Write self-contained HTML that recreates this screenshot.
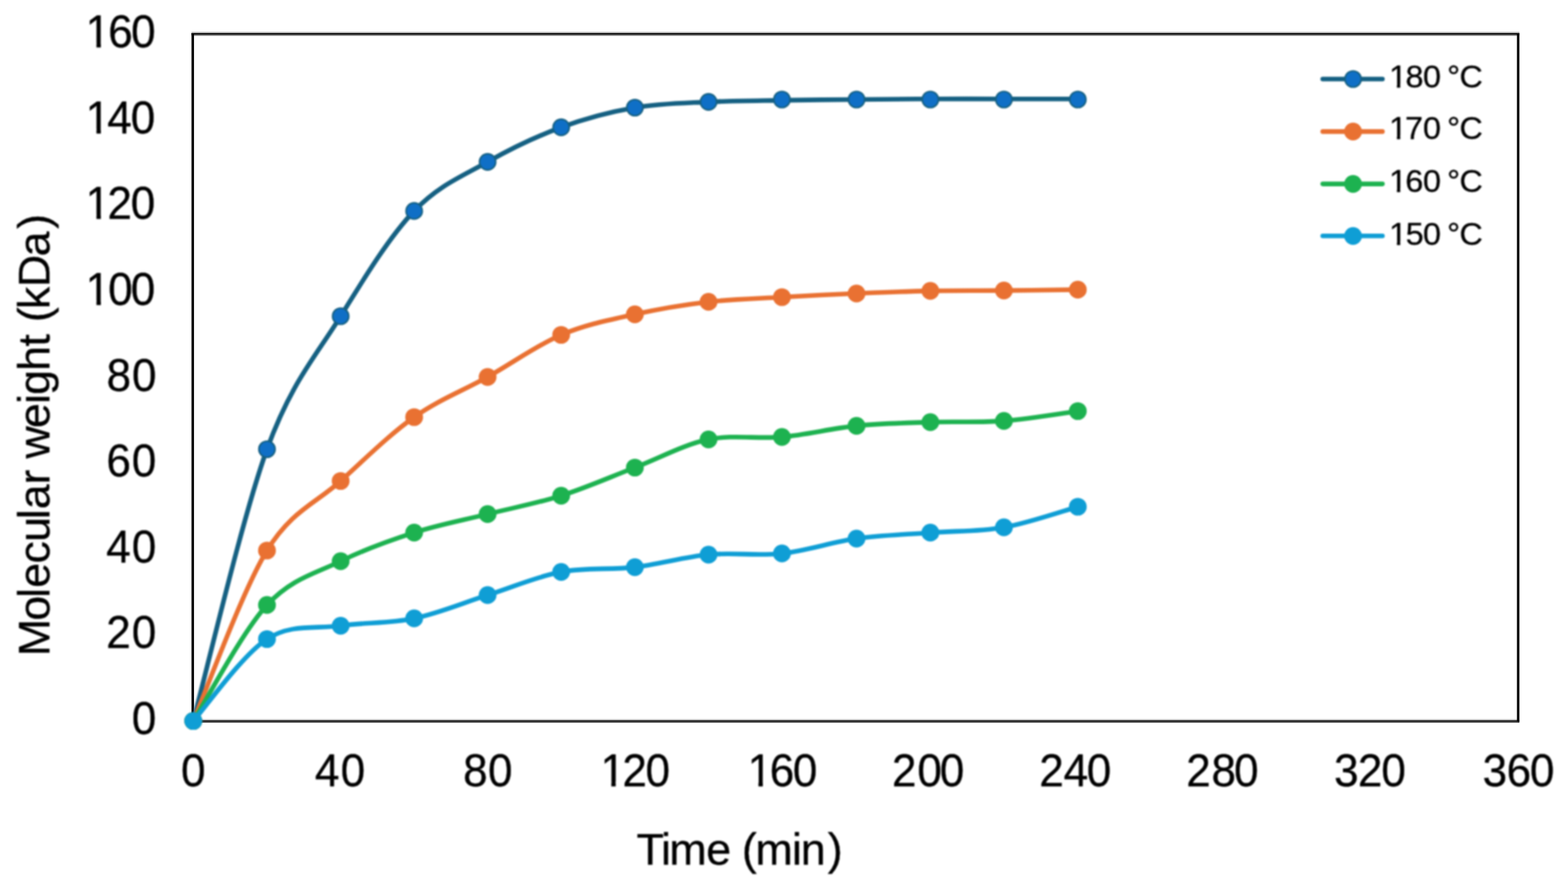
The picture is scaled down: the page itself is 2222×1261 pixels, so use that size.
<!DOCTYPE html>
<html lang="en"><head><meta charset="utf-8"><title>Molecular weight vs time</title>
<style>
html,body{margin:0;padding:0;background:#fff;}
body{width:2222px;height:1261px;overflow:hidden;font-family:"Liberation Sans",Arial,Helvetica,sans-serif;}
svg{display:block;}
text{font-family:"Liberation Sans",Arial,Helvetica,sans-serif;fill:#000;stroke:#000;stroke-width:0.40px;stroke-linejoin:round;white-space:pre;}
</style></head><body>
<svg xmlns="http://www.w3.org/2000/svg" width="2222" height="1261" viewBox="0 0 2222 1261">
<defs><filter id="soft" x="0" y="0" width="2222" height="1261" filterUnits="userSpaceOnUse" color-interpolation-filters="sRGB"><feGaussianBlur stdDeviation="0.85 1.20"/></filter><filter id="crisp" x="0" y="0" width="2222" height="1261" filterUnits="userSpaceOnUse" color-interpolation-filters="sRGB"><feGaussianBlur stdDeviation="0.35 0.30"/></filter></defs>
<rect x="0" y="0" width="2222" height="1261" fill="#fff"/>
<g filter="url(#soft)">
<rect x="0" y="0" width="2222" height="1261" fill="#fff"/>
<g id="y-axis-labels">
<text class="tick" font-size="62.50" transform="translate(0.00 67.15) scale(1 1.0320)" x="121.32 153.18 185.66" y="0">160</text>
<text class="tick" font-size="62.50" transform="translate(0.00 188.75) scale(1 1.0320)" x="121.32 152.07 185.36" y="0">140</text>
<text class="tick" font-size="62.50" transform="translate(0.00 310.35) scale(1 1.0320)" x="121.32 152.26 185.36" y="0">120</text>
<text class="tick" font-size="62.50" transform="translate(0.00 431.95) scale(1 1.0320)" x="121.32 153.26 185.36" y="0">100</text>
<text class="tick" font-size="62.50" transform="translate(0.00 553.55) scale(1 1.0320)" x="151.02 186.94" y="0">80</text>
<text class="tick" font-size="62.50" transform="translate(0.00 675.15) scale(1 1.0320)" x="150.83 186.66" y="0">60</text>
<text class="tick" font-size="62.50" transform="translate(0.00 796.75) scale(1 1.0320)" x="150.42 186.66" y="0">40</text>
<text class="tick" font-size="62.50" transform="translate(0.00 918.35) scale(1 1.0320)" x="150.56 186.66" y="0">20</text>
<text class="tick" font-size="62.50" transform="translate(0.00 1039.95) scale(1 1.0320)" x="186.66" y="0">0</text>
</g>
<g id="x-axis-labels">
<text class="tick" font-size="62.50" transform="translate(0.00 1113.80) scale(1 1.0320)" x="256.46" y="0">0</text>
<text class="tick" font-size="62.50" transform="translate(0.00 1113.80) scale(1 1.0320)" x="446.17 482.76" y="0">40</text>
<text class="tick" font-size="62.50" transform="translate(0.00 1113.80) scale(1 1.0320)" x="656.18 691.56" y="0">80</text>
<text class="tick" font-size="62.50" transform="translate(0.00 1113.80) scale(1 1.0320)" x="850.92 881.96 914.76" y="0">120</text>
<text class="tick" font-size="62.50" transform="translate(0.00 1113.80) scale(1 1.0320)" x="1059.42 1090.83 1123.46" y="0">160</text>
<text class="tick" font-size="62.50" transform="translate(0.00 1113.80) scale(1 1.0320)" x="1264.01 1300.06 1331.66" y="0">200</text>
<text class="tick" font-size="62.50" transform="translate(0.00 1113.80) scale(1 1.0320)" x="1472.66 1507.27 1540.06" y="0">240</text>
<text class="tick" font-size="62.50" transform="translate(0.00 1113.80) scale(1 1.0320)" x="1681.01 1716.78 1748.66" y="0">280</text>
<text class="tick" font-size="62.50" transform="translate(0.00 1113.80) scale(1 1.0320)" x="1890.58 1924.36 1957.46" y="0">320</text>
<text class="tick" font-size="62.50" transform="translate(0.00 1113.80) scale(1 1.0320)" x="2101.12 2135.13 2168.01" y="0">360</text>
</g>
<text class="title" font-size="63.50" transform="translate(0.00 1224.80)" x="901.97 936.65 948.58 1000.70 1036.02 1051.16 1070.48 1122.15 1134.63 1172.93" y="0">Time (min)</text>
<text class="title" font-size="63.50" transform="translate(70.00 925.00) rotate(-90)" x="-4.81 45.43 77.92 92.30 126.40 157.38 189.62 203.40 238.58 259.73 275.29 318.50 352.75 365.43 399.50 433.94 451.58 468.46 486.92 518.34 561.80 600.73" y="0">Molecular weight (kDa)</text>
<g id="legend-labels">
<text class="leg" font-size="45.80" transform="translate(0.00 124.10) scale(1 0.9850)" x="1968.40 1991.77 2016.61 2042.08 2050.77 2068.37" y="0">180 °C</text>
<text class="leg" font-size="45.80" transform="translate(0.00 196.75) scale(1 0.9850)" x="1968.40 1991.05 2016.61 2042.08 2050.77 2068.37" y="0">170 °C</text>
<text class="leg" font-size="45.80" transform="translate(0.00 271.75) scale(1 0.9850)" x="1968.40 1991.43 2016.61 2042.08 2050.77 2068.37" y="0">160 °C</text>
<text class="leg" font-size="45.80" transform="translate(0.00 346.75) scale(1 0.9850)" x="1968.40 1991.93 2016.61 2042.08 2050.77 2068.37" y="0">150 °C</text>
</g>
<g id="one-foot-masks" fill="#fff">
<rect x="124.58" y="61.13" width="12.11" height="8.02"/>
<rect x="142.91" y="61.13" width="11.97" height="8.02"/>
<rect x="124.58" y="182.73" width="12.11" height="8.02"/>
<rect x="142.91" y="182.73" width="11.97" height="8.02"/>
<rect x="124.58" y="304.33" width="12.11" height="8.02"/>
<rect x="142.91" y="304.33" width="11.97" height="8.02"/>
<rect x="124.58" y="425.93" width="12.11" height="8.02"/>
<rect x="142.91" y="425.93" width="11.97" height="8.02"/>
<rect x="854.18" y="1107.78" width="12.11" height="8.02"/>
<rect x="872.51" y="1107.78" width="11.97" height="8.02"/>
<rect x="1062.68" y="1107.78" width="12.11" height="8.02"/>
<rect x="1081.01" y="1107.78" width="11.97" height="8.02"/>
<rect x="1970.39" y="119.53" width="9.18" height="6.57"/>
<rect x="1984.31" y="119.53" width="9.17" height="6.57"/>
<rect x="1970.39" y="192.18" width="9.18" height="6.57"/>
<rect x="1984.31" y="192.18" width="9.17" height="6.57"/>
<rect x="1970.39" y="267.18" width="9.18" height="6.57"/>
<rect x="1984.31" y="267.18" width="9.17" height="6.57"/>
<rect x="1970.39" y="342.18" width="9.18" height="6.57"/>
<rect x="1984.31" y="342.18" width="9.17" height="6.57"/>
</g>
</g>
<g id="frame" filter="url(#crisp)">
<rect x="271.40" y="45.10" width="1881.75" height="1.90" fill="#000" fill-opacity="0.30"/>
<rect x="271.40" y="47.00" width="1881.75" height="1.90" fill="#000" fill-opacity="1.00"/>
<rect x="271.40" y="48.90" width="1881.75" height="1.90" fill="#000" fill-opacity="0.50"/>
<rect x="271.40" y="1018.65" width="1881.75" height="1.10" fill="#000" fill-opacity="0.15"/>
<rect x="271.40" y="1019.75" width="1881.75" height="1.05" fill="#000" fill-opacity="0.45"/>
<rect x="271.40" y="1020.80" width="1881.75" height="1.70" fill="#000" fill-opacity="1.00"/>
<rect x="271.40" y="1022.50" width="1881.75" height="1.60" fill="#000" fill-opacity="0.68"/>
<rect x="271.40" y="47.00" width="3.50" height="975.50" fill="#000"/>
<rect x="2149.65" y="47.00" width="3.50" height="975.50" fill="#000"/>
</g>
<g filter="url(#soft)">
<g id="series-b" transform="scale(1 1.0000)">
<path d="M273.90 1021.50 C291.31 957.32 343.51 732.10 378.33 636.50 C413.15 540.90 447.99 504.28 482.76 448.00 C517.53 391.72 552.19 335.34 586.90 298.90 C621.61 262.46 656.24 249.15 690.97 229.40 C725.70 209.65 760.46 193.22 795.25 180.40 C830.04 167.58 864.87 158.50 899.68 152.50 C934.49 146.50 969.32 146.13 1004.06 144.40 C1038.80 142.67 1073.11 142.67 1108.07 142.10 C1143.03 141.53 1178.71 141.32 1213.77 141.00 C1248.83 140.68 1283.58 140.33 1318.40 140.20 C1353.22 140.07 1387.80 140.20 1422.63 140.20 C1457.46 140.20 1509.90 140.20 1527.36 140.20" fill="none" stroke="#156082" stroke-width="6.60" stroke-linecap="round" stroke-linejoin="round"/>
<circle cx="273.90" cy="1021.50" r="11.50" fill="#0F6FC6" stroke="#156082" stroke-width="2.20"/>
<circle cx="378.33" cy="636.50" r="11.50" fill="#0F6FC6" stroke="#156082" stroke-width="2.20"/>
<circle cx="482.76" cy="448.00" r="11.50" fill="#0F6FC6" stroke="#156082" stroke-width="2.20"/>
<circle cx="586.90" cy="298.90" r="11.50" fill="#0F6FC6" stroke="#156082" stroke-width="2.20"/>
<circle cx="690.97" cy="229.40" r="11.50" fill="#0F6FC6" stroke="#156082" stroke-width="2.20"/>
<circle cx="795.25" cy="180.40" r="11.50" fill="#0F6FC6" stroke="#156082" stroke-width="2.20"/>
<circle cx="899.68" cy="152.50" r="11.50" fill="#0F6FC6" stroke="#156082" stroke-width="2.20"/>
<circle cx="1004.06" cy="144.40" r="11.50" fill="#0F6FC6" stroke="#156082" stroke-width="2.20"/>
<circle cx="1108.07" cy="141.00" r="11.50" fill="#0F6FC6" stroke="#156082" stroke-width="2.20"/>
<circle cx="1213.77" cy="141.00" r="11.50" fill="#0F6FC6" stroke="#156082" stroke-width="2.20"/>
<circle cx="1318.40" cy="141.00" r="11.50" fill="#0F6FC6" stroke="#156082" stroke-width="2.20"/>
<circle cx="1422.63" cy="141.00" r="11.50" fill="#0F6FC6" stroke="#156082" stroke-width="2.20"/>
<circle cx="1527.36" cy="141.00" r="11.50" fill="#0F6FC6" stroke="#156082" stroke-width="2.20"/>
</g>
<g id="series-o" transform="scale(1 1.0000)">
<path d="M273.90 1021.50 C291.31 981.24 343.51 836.68 378.33 780.00 C413.15 723.32 447.99 713.01 482.76 681.50 C517.53 649.99 552.19 615.57 586.90 591.00 C621.61 566.43 656.24 553.52 690.97 534.10 C725.70 514.68 760.46 489.30 795.25 474.50 C830.04 459.70 864.87 453.10 899.68 445.30 C934.49 437.50 969.32 431.75 1004.06 427.70 C1038.80 423.65 1073.11 422.98 1108.07 421.00 C1143.03 419.02 1178.71 417.28 1213.77 415.80 C1248.83 414.32 1283.58 412.80 1318.40 412.10 C1353.22 411.40 1387.80 411.88 1422.63 411.60 C1457.46 411.32 1509.90 410.60 1527.36 410.40" fill="none" stroke="#E97132" stroke-width="6.60" stroke-linecap="round" stroke-linejoin="round"/>
<circle cx="273.90" cy="1021.50" r="11.50" fill="#E97132" stroke="#E97132" stroke-width="2.20"/>
<circle cx="378.33" cy="780.00" r="11.50" fill="#E97132" stroke="#E97132" stroke-width="2.20"/>
<circle cx="482.76" cy="681.50" r="11.50" fill="#E97132" stroke="#E97132" stroke-width="2.20"/>
<circle cx="586.90" cy="591.00" r="11.50" fill="#E97132" stroke="#E97132" stroke-width="2.20"/>
<circle cx="690.97" cy="534.10" r="11.50" fill="#E97132" stroke="#E97132" stroke-width="2.20"/>
<circle cx="795.25" cy="474.50" r="11.50" fill="#E97132" stroke="#E97132" stroke-width="2.20"/>
<circle cx="899.68" cy="445.30" r="11.50" fill="#E97132" stroke="#E97132" stroke-width="2.20"/>
<circle cx="1004.06" cy="427.70" r="11.50" fill="#E97132" stroke="#E97132" stroke-width="2.20"/>
<circle cx="1108.07" cy="421.00" r="11.50" fill="#E97132" stroke="#E97132" stroke-width="2.20"/>
<circle cx="1213.77" cy="415.80" r="11.50" fill="#E97132" stroke="#E97132" stroke-width="2.20"/>
<circle cx="1318.40" cy="412.10" r="11.50" fill="#E97132" stroke="#E97132" stroke-width="2.20"/>
<circle cx="1422.63" cy="411.60" r="11.50" fill="#E97132" stroke="#E97132" stroke-width="2.20"/>
<circle cx="1527.36" cy="410.40" r="11.50" fill="#E97132" stroke="#E97132" stroke-width="2.20"/>
</g>
<g id="series-g" transform="scale(1 1.0000)">
<path d="M273.90 1021.50 C291.31 994.11 343.51 894.94 378.33 857.20 C413.15 819.46 447.99 812.20 482.76 795.10 C517.53 778.00 552.19 765.72 586.90 754.60 C621.61 743.48 656.24 737.12 690.97 728.40 C725.70 719.68 760.46 713.29 795.25 702.30 C830.04 691.31 864.87 675.79 899.68 662.50 C934.49 649.21 969.32 629.83 1004.06 622.60 C1038.80 615.37 1073.11 622.30 1108.07 619.10 C1143.03 615.90 1178.71 606.90 1213.77 603.40 C1248.83 599.90 1283.58 599.27 1318.40 598.10 C1353.22 596.93 1387.80 599.00 1422.63 596.40 C1457.46 593.80 1509.90 584.82 1527.36 582.50" fill="none" stroke="#1DB250" stroke-width="6.60" stroke-linecap="round" stroke-linejoin="round"/>
<circle cx="273.90" cy="1021.50" r="11.50" fill="#1DB250" stroke="#1DB250" stroke-width="2.20"/>
<circle cx="378.33" cy="857.20" r="11.50" fill="#1DB250" stroke="#1DB250" stroke-width="2.20"/>
<circle cx="482.76" cy="795.10" r="11.50" fill="#1DB250" stroke="#1DB250" stroke-width="2.20"/>
<circle cx="586.90" cy="754.60" r="11.50" fill="#1DB250" stroke="#1DB250" stroke-width="2.20"/>
<circle cx="690.97" cy="728.40" r="11.50" fill="#1DB250" stroke="#1DB250" stroke-width="2.20"/>
<circle cx="795.25" cy="702.30" r="11.50" fill="#1DB250" stroke="#1DB250" stroke-width="2.20"/>
<circle cx="899.68" cy="662.50" r="11.50" fill="#1DB250" stroke="#1DB250" stroke-width="2.20"/>
<circle cx="1004.06" cy="622.60" r="11.50" fill="#1DB250" stroke="#1DB250" stroke-width="2.20"/>
<circle cx="1108.07" cy="619.10" r="11.50" fill="#1DB250" stroke="#1DB250" stroke-width="2.20"/>
<circle cx="1213.77" cy="603.40" r="11.50" fill="#1DB250" stroke="#1DB250" stroke-width="2.20"/>
<circle cx="1318.40" cy="598.10" r="11.50" fill="#1DB250" stroke="#1DB250" stroke-width="2.20"/>
<circle cx="1422.63" cy="596.40" r="11.50" fill="#1DB250" stroke="#1DB250" stroke-width="2.20"/>
<circle cx="1527.36" cy="582.50" r="11.50" fill="#1DB250" stroke="#1DB250" stroke-width="2.20"/>
</g>
<g id="series-c" transform="scale(1 1.0000)">
<path d="M273.90 1021.50 C291.31 1002.16 343.51 927.99 378.33 905.50 C413.15 883.01 447.99 891.48 482.76 886.60 C517.53 881.72 552.19 883.43 586.90 876.20 C621.61 868.97 656.24 854.19 690.97 843.20 C725.70 832.21 760.46 816.90 795.25 810.30 C830.04 803.70 864.87 807.68 899.68 803.60 C934.49 799.52 969.32 789.03 1004.06 785.80 C1038.80 782.57 1073.11 787.98 1108.07 784.20 C1143.03 780.42 1178.71 768.02 1213.77 763.10 C1248.83 758.18 1283.58 757.35 1318.40 754.70 C1353.22 752.05 1387.80 753.32 1422.63 747.20 C1457.46 741.08 1509.90 722.87 1527.36 718.00" fill="none" stroke="#0F9ED5" stroke-width="6.60" stroke-linecap="round" stroke-linejoin="round"/>
<circle cx="273.90" cy="1021.50" r="11.50" fill="#0F9ED5" stroke="#0F9ED5" stroke-width="2.20"/>
<circle cx="378.33" cy="905.50" r="11.50" fill="#0F9ED5" stroke="#0F9ED5" stroke-width="2.20"/>
<circle cx="482.76" cy="886.60" r="11.50" fill="#0F9ED5" stroke="#0F9ED5" stroke-width="2.20"/>
<circle cx="586.90" cy="876.20" r="11.50" fill="#0F9ED5" stroke="#0F9ED5" stroke-width="2.20"/>
<circle cx="690.97" cy="843.20" r="11.50" fill="#0F9ED5" stroke="#0F9ED5" stroke-width="2.20"/>
<circle cx="795.25" cy="810.30" r="11.50" fill="#0F9ED5" stroke="#0F9ED5" stroke-width="2.20"/>
<circle cx="899.68" cy="803.60" r="11.50" fill="#0F9ED5" stroke="#0F9ED5" stroke-width="2.20"/>
<circle cx="1004.06" cy="785.80" r="11.50" fill="#0F9ED5" stroke="#0F9ED5" stroke-width="2.20"/>
<circle cx="1108.07" cy="784.20" r="11.50" fill="#0F9ED5" stroke="#0F9ED5" stroke-width="2.20"/>
<circle cx="1213.77" cy="763.10" r="11.50" fill="#0F9ED5" stroke="#0F9ED5" stroke-width="2.20"/>
<circle cx="1318.40" cy="754.70" r="11.50" fill="#0F9ED5" stroke="#0F9ED5" stroke-width="2.20"/>
<circle cx="1422.63" cy="747.20" r="11.50" fill="#0F9ED5" stroke="#0F9ED5" stroke-width="2.20"/>
<circle cx="1527.36" cy="718.00" r="11.50" fill="#0F9ED5" stroke="#0F9ED5" stroke-width="2.20"/>
</g>
<g id="legend-keys" transform="scale(1 1.0000)">
<line x1="1874.50" y1="112.00" x2="1959.00" y2="112.00" stroke="#156082" stroke-width="6.60" stroke-linecap="round"/>
<circle cx="1917.40" cy="112.00" r="11.50" fill="#0F6FC6" stroke="#156082" stroke-width="2.20"/>
<line x1="1874.50" y1="186.40" x2="1959.00" y2="186.40" stroke="#E97132" stroke-width="6.60" stroke-linecap="round"/>
<circle cx="1917.40" cy="186.40" r="11.50" fill="#E97132" stroke="#E97132" stroke-width="2.20"/>
<line x1="1874.50" y1="260.60" x2="1959.00" y2="260.60" stroke="#1DB250" stroke-width="6.60" stroke-linecap="round"/>
<circle cx="1917.40" cy="260.60" r="11.50" fill="#1DB250" stroke="#1DB250" stroke-width="2.20"/>
<line x1="1874.50" y1="334.30" x2="1959.00" y2="334.30" stroke="#0F9ED5" stroke-width="6.60" stroke-linecap="round"/>
<circle cx="1917.40" cy="334.30" r="11.50" fill="#0F9ED5" stroke="#0F9ED5" stroke-width="2.20"/>
</g>
</g>
</svg>
</body></html>
